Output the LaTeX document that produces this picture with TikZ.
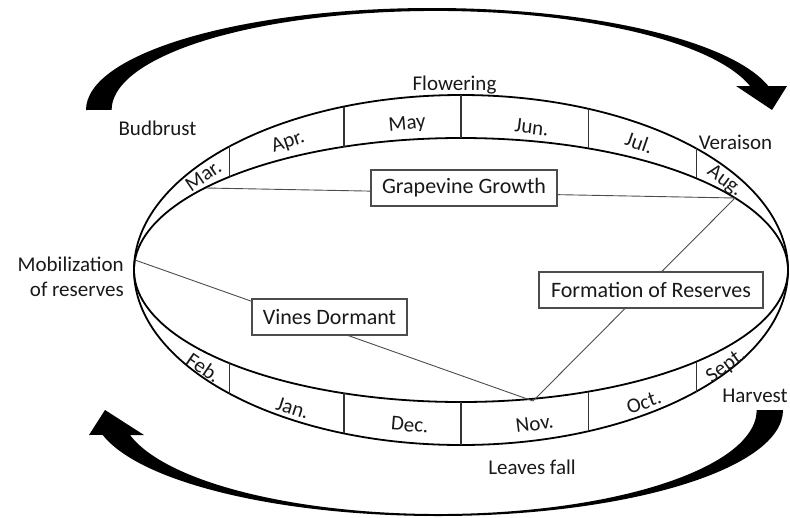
\documentclass[tikz,border=0pt]{standalone}
\usepackage{fontspec}
\setmainfont{Carlito}
\def\cx{461}
\def\cy{270}
\def\rx{327}
\def\ro{175}
\def\ri{132}
\tikzset{every node/.style={font=\fontsize{21}{25}\selectfont,text=black!90},
    stage/.style={inner sep=0pt},
    month/.style={inner sep=0pt,text height=13pt,text depth=0pt},
    box/.style={draw=black!70,fill=white,line width=1.1pt,inner sep=0pt,minimum height=36pt,
      font=\fontsize{22}{26}\selectfont},
    ring/.style={line width=1.8pt},
    tick/.style={line width=1.4pt,draw=black!80},
    link/.style={line width=.9pt,draw=black!70}}

\begin{document}
\begin{tikzpicture}[x=1pt,y=-1pt]
    \useasboundingbox (0,0) rectangle (790,517);
    % seasonal arrows
    \fill (86,110) arc[start angle=180,end angle=13.6,x radius=346pt,y radius=102pt]
      -- (787,86) -- (772,110) -- (736,86) -- (750,86)
      arc[start angle=14,end angle=180,x radius=324pt,y radius=99pt] -- cycle;
    \fill (783,410) arc[start angle=0,end angle=-166.4,x radius=345pt,y radius=106pt]
      -- (89,435) -- (105,410) -- (144,435) -- (130,435)
      arc[start angle=-166.1,end angle=0,x radius=318pt,y radius=104pt] -- cycle;
    % the ring of months
    \draw[ring] (\cx,\cy) ellipse [x radius=\rx*1pt,y radius=\ro*1pt];
    \draw[ring] (\cx,\cy) ellipse [x radius=\rx*1pt,y radius=\ri*1pt];
    \foreach \t in {135,111,90,67,44} {
      \draw[tick] ({\cx+\rx*cos(\t)},{\cy-\ro*sin(\t)}) -- ({\cx+\rx*cos(\t)},{\cy-\ri*sin(\t)});
      \draw[tick] ({\cx+\rx*cos(\t)},{\cy+\ri*sin(\t)}) -- ({\cx+\rx*cos(\t)},{\cy+\ro*sin(\t)});
    }
    \foreach \t/\r/\m [count=\i] in {142/153/Mar.,122/152/Apr.,99.5/149/May,77.5/146/Jun.,57/151/Jul.,36/153/Aug.}
      \node[month,rotate={-atan(\ro*cos(\t)/(\rx*sin(\t)))}] (top\i) at ({\cx+\rx*cos(\t)},{\cy-\r*sin(\t)}) {\m};
    \foreach \t/\r/\m [count=\i] in {142/159/Feb.,121/161/Jan.,99/157/Dec.,77/158/Nov.,56/160/Oct.,36/162/Sept.}
      \node[month,rotate={atan(\ro*cos(\t)/(\rx*sin(\t)))}] (bot\i) at ({\cx+\rx*cos(\t)},{\cy+\r*sin(\t)}) {\m};
    % phases
    \coordinate (mar) at (206,188);
    \coordinate (aug) at (735,198);
    \coordinate (nov) at (533,401);
    \coordinate (mob) at (135,260);
    \draw[link] (mar) -- (aug) (aug) -- (nov) (mob) -- (nov);
    \node[box,minimum width=186pt] (growth) at (464,188) {Grapevine Growth};
    \node[box,minimum width=155pt] (dormant) at (329.5,317) {Vines Dormant};
    \node[box,minimum width=224pt] (reserves) at (651,290) {Formation of Reserves};
    % stages
    \node[stage,anchor=base] (flower) at (454.5,90) {Flowering};
    \node[stage,anchor=base] (bud) at (157.5,135) {Budbrust};
    \node[stage,anchor=base] (verai) at (735.5,149) {Veraison};
    \node[stage,anchor=base] (harv) at (755,402) {Harvest};
    \node[stage,anchor=base] (leaves) at (532,474) {Leaves fall};
    \node[stage,align=right,anchor=north east] (mobil) at (124,257) {Mobilization\\of reserves};
\end{tikzpicture}
\end{document}
